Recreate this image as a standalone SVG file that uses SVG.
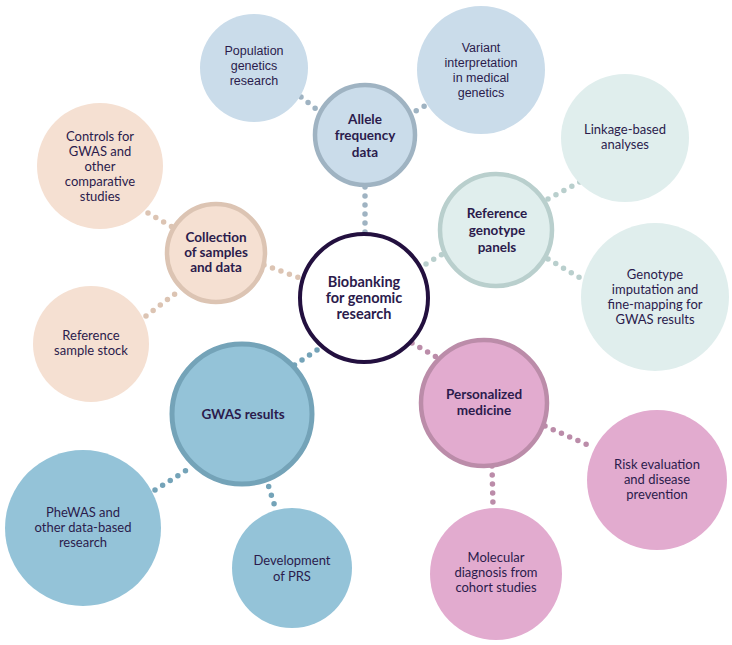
<svg xmlns="http://www.w3.org/2000/svg" width="732" height="645" viewBox="0 0 732 645">
<style>
text{font-family:Lato,"Liberation Sans",sans-serif;fill:#2b1b4c;text-anchor:middle;font-size:13px}
.b{font-weight:bold;font-size:13.5px}
.c{font-weight:bold;font-size:14.5px}
.a{font-family:"Liberation Sans",Arial,sans-serif;font-size:12.5px}
.dot{fill:none;stroke-width:5.5;stroke-linecap:round;stroke-dasharray:0 9}
.blue{fill:#cadcea}
.green{fill:#e0eeed}
.peach{fill:#f5e0d2}
.gw{fill:#94c3d8}
.pink{fill:#e2abcf}
</style>
<rect width="732" height="645" fill="#ffffff"/>
<g id="connectors">
<line class="dot" stroke="#9fb3c2" x1="365" y1="187" x2="365" y2="234"/>
<line class="dot" stroke="#9fb3c2" x1="301" y1="97" x2="320" y2="112"/>
<line class="dot" stroke="#9fb3c2" x1="432" y1="102" x2="412" y2="113"/>
<line class="dot" stroke="#b9cfcd" x1="426" y1="264" x2="446" y2="252"/>
<line class="dot" stroke="#b9cfcd" x1="548" y1="199" x2="580" y2="182"/>
<line class="dot" stroke="#b9cfcd" x1="548" y1="259" x2="582" y2="279"/>
<line class="dot" stroke="#dcc4b3" x1="264" y1="265" x2="300" y2="278"/>
<line class="dot" stroke="#dcc4b3" x1="148" y1="213" x2="176" y2="229"/>
<line class="dot" stroke="#dcc4b3" x1="146" y1="316" x2="180" y2="290"/>
<line class="dot" stroke="#74a3b8" x1="317" y1="350" x2="293" y2="366"/>
<line class="dot" stroke="#74a3b8" x1="155" y1="490" x2="190" y2="468"/>
<line class="dot" stroke="#74a3b8" x1="266" y1="478" x2="276" y2="510"/>
<line class="dot" stroke="#bb8ca9" x1="412" y1="343" x2="438" y2="358"/>
<line class="dot" stroke="#bb8ca9" x1="545" y1="426" x2="590" y2="446"/>
<line class="dot" stroke="#bb8ca9" x1="492" y1="466" x2="493" y2="506"/>
</g>
<g id="n-center">
<circle cx="364" cy="298" r="64" fill="#ffffff" stroke="#23103f" stroke-width="4"/>
<text class="c" x="364" y="287">Biobanking</text>
<text class="c" x="364" y="303">for genomic</text>
<text class="c" x="364" y="319">research</text>
</g>
<g id="n-allele">
<circle class="blue" cx="365" cy="135" r="50" stroke="#9fb3c2" stroke-width="4.5"/>
<text class="b" x="365" y="124">Allele</text>
<text class="b" x="365" y="140">frequency</text>
<text class="b" x="365" y="157">data</text>
</g>
<g id="n-population">
<circle class="blue" cx="254" cy="68" r="54"/>
<text class="a" x="254" y="55">Population</text>
<text class="a" x="254" y="70">genetics</text>
<text class="a" x="254" y="85">research</text>
</g>
<g id="n-variant">
<circle class="blue" cx="481" cy="70" r="64"/>
<text class="a" x="481" y="52">Variant</text>
<text class="a" x="481" y="67">interpretation</text>
<text class="a" x="481" y="82">in medical</text>
<text class="a" x="481" y="97">genetics</text>
</g>
<g id="n-refgen">
<circle class="green" cx="496" cy="230" r="56" stroke="#b9cfcd" stroke-width="4.5"/>
<text class="b" x="497" y="218">Reference</text>
<text class="b" x="497" y="235">genotype</text>
<text class="b" x="497" y="252">panels</text>
</g>
<g id="n-linkage">
<circle class="green" cx="625" cy="138" r="64"/>
<text x="625" y="134">Linkage-based</text>
<text x="625" y="149">analyses</text>
</g>
<g id="n-imputation">
<circle class="green" cx="655" cy="297" r="74"/>
<text x="655" y="279">Genotype</text>
<text x="655" y="294">imputation and</text>
<text x="655" y="309">fine-mapping for</text>
<text x="655" y="324">GWAS results</text>
</g>
<g id="n-collection">
<circle class="peach" cx="216" cy="253" r="49" stroke="#dcc4b3" stroke-width="4.5"/>
<text class="b" x="216" y="242">Collection</text>
<text class="b" x="216" y="257">of samples</text>
<text class="b" x="216" y="272">and data</text>
</g>
<g id="n-controls">
<circle class="peach" cx="100" cy="166" r="63"/>
<text x="100" y="141">Controls for</text>
<text x="100" y="156">GWAS and</text>
<text x="100" y="171">other</text>
<text x="100" y="186">comparative</text>
<text x="100" y="201">studies</text>
</g>
<g id="n-refsample">
<circle class="peach" cx="91" cy="344" r="58"/>
<text x="91" y="340">Reference</text>
<text x="91" y="355">sample stock</text>
</g>
<g id="n-gwas">
<circle class="gw" cx="242" cy="414" r="70" stroke="#74a3b8" stroke-width="5"/>
<text class="b" x="243" y="419">GWAS results</text>
</g>
<g id="n-phewas">
<circle class="gw" cx="83" cy="528" r="78"/>
<text x="83" y="517">PheWAS and</text>
<text x="83" y="532">other data-based</text>
<text x="83" y="547">research</text>
</g>
<g id="n-prs">
<circle class="gw" cx="292" cy="568" r="60"/>
<text x="292" y="565">Development</text>
<text x="292" y="581">of PRS</text>
</g>
<g id="n-personal">
<circle class="pink" cx="484" cy="403" r="63" stroke="#bb8ca9" stroke-width="4.5"/>
<text class="b" x="484" y="399">Personalized</text>
<text class="b" x="484" y="415">medicine</text>
</g>
<g id="n-risk">
<circle class="pink" cx="657" cy="480" r="70"/>
<text x="657" y="469">Risk evaluation</text>
<text x="657" y="484">and disease</text>
<text x="657" y="499">prevention</text>
</g>
<g id="n-molecular">
<circle class="pink" cx="496" cy="574" r="66"/>
<text x="496" y="562">Molecular</text>
<text x="496" y="577">diagnosis from</text>
<text x="496" y="592">cohort studies</text>
</g>
</svg>
